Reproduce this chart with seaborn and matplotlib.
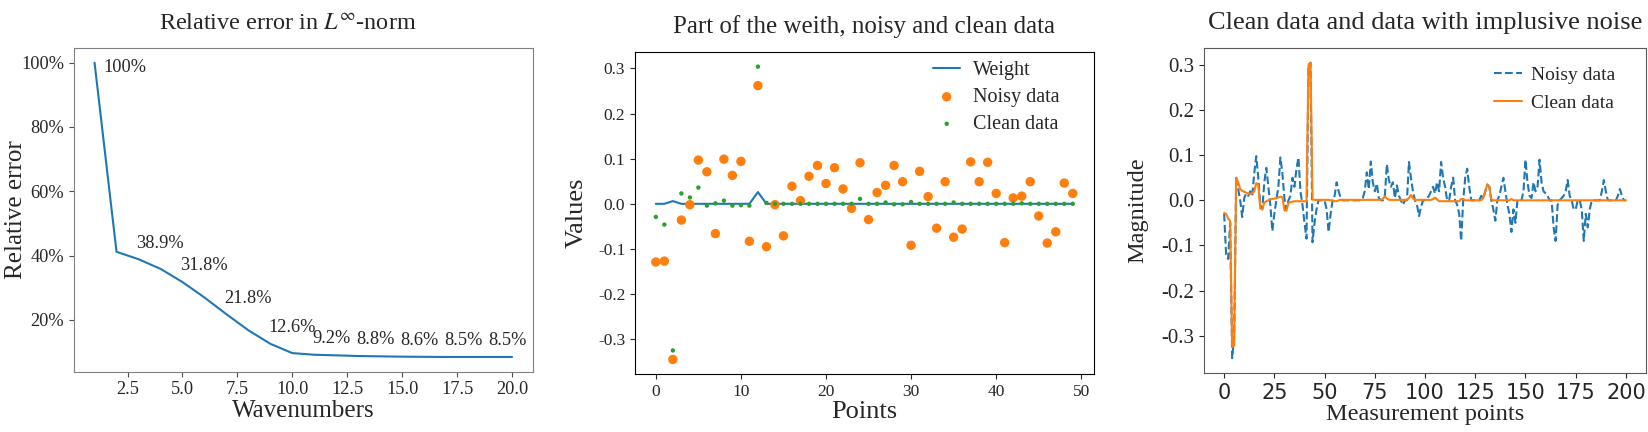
import numpy as np
import pandas as pd
import matplotlib
matplotlib.use("Agg")
import matplotlib.pyplot as plt
from matplotlib.ticker import PercentFormatter, MultipleLocator
import seaborn as sns

# ---------------- data ----------------
# Panel 1: relative error vs wavenumbers
wavenumbers = list(range(1, 21))
rel_error = [100.0, 41.2, 38.9, 35.9, 31.8, 27.0, 21.8, 16.8, 12.6, 9.7,
             9.2, 9.0, 8.8, 8.7, 8.6, 8.55, 8.5, 8.5, 8.5, 8.5]
label_wavenumbers = [1, 3, 5, 7, 9, 11, 13, 15, 17, 19]
label_texts = ["100%", "38.9%", "31.8%", "21.8%", "12.6%", "9.2%", "8.8%",
               "8.6%", "8.5%", "8.5%"]

# Panel 2: weight, noisy and clean data (first 50 points)
points = list(range(50))
weight = [0, 0, 0.006, 0, 0, 0, 0, 0, 0, 0,
          0, 0, 0.026, 0, 0, 0, 0, 0, 0, 0,
          0, 0, 0, 0, 0, 0, 0, 0, 0, 0,
          0, 0, 0, 0, 0, 0, 0, 0, 0, 0,
          0, 0, 0, 0, 0, 0, 0, 0, 0, 0]
noisy_part = [-0.129, -0.127, -0.345, -0.036, -0.002, 0.097, 0.071, -0.066, 0.099, 0.063,
              0.094, -0.083, 0.262, -0.095, -0.002, -0.071, 0.039, 0.007, 0.061, 0.085,
              0.045, 0.080, 0.033, -0.010, 0.091, -0.035, 0.025, 0.041, 0.085, 0.049,
              -0.092, 0.072, 0.016, -0.054, 0.049, -0.074, -0.056, 0.093, 0.049, 0.092,
              0.023, -0.086, 0.013, 0.017, 0.049, -0.027, -0.087, -0.062, 0.046, 0.023]
clean_part = [-0.029, -0.046, -0.325, 0.023, 0.014, 0.036, -0.004, 0.001, 0.007, -0.004,
              -0.003, -0.004, 0.304, 0.002, 0.000, 0.000, 0.000, 0.000, 0.000, 0.000,
              0.000, 0.000, 0.000, 0.000, 0.011, 0.000, 0.000, 0.003, -0.001, -0.001,
              0.004, 0.000, 0.000, 0.000, 0.000, 0.003, 0.000, 0.000, 0.000, 0.000,
              0.000, 0.000, 0.000, 0.001, 0.000, 0.000, 0.000, 0.000, 0.000, 0.000]

# Panel 3: full measurement data (201 points)
measurement_points = list(range(201))
noisy_full = [
    -0.030, -0.120, -0.130, -0.050, -0.350, -0.300, 0.050, 0.025, 0.000, -0.037,
    0.005, 0.015, 0.010, 0.020, 0.010, 0.060, 0.098, 0.050, -0.010, -0.020,
    0.040, 0.072, 0.030, -0.010, -0.068, -0.030, 0.000, 0.030, 0.095, 0.060,
    0.005, -0.020, 0.000, 0.010, 0.050, 0.030, 0.070, 0.095, 0.020, -0.010,
    -0.050, -0.085, 0.300, 0.305, -0.093, -0.050, -0.020, 0.000, 0.000, 0.000,
    0.000, -0.020, -0.070, -0.030, 0.000, 0.010, 0.040, 0.020, 0.005, 0.000,
    0.000, 0.000, 0.000, 0.000, 0.000, 0.000, 0.000, 0.000, 0.000, 0.005,
    0.020, 0.062, 0.025, 0.086, 0.040, 0.020, 0.037, 0.005, 0.000, 0.000,
    0.010, 0.080, 0.045, 0.030, 0.040, 0.005, 0.033, 0.010, 0.000, -0.010,
    0.000, 0.000, 0.085, 0.050, 0.020, 0.000, -0.010, -0.035, -0.015, 0.000,
    0.000, 0.005, 0.010, 0.020, 0.030, 0.015, 0.040, 0.020, 0.085, 0.050,
    0.030, 0.000, 0.000, 0.030, 0.050, 0.000, -0.010, -0.030, -0.090, 0.000,
    0.050, 0.070, 0.030, 0.000, 0.000, 0.000, 0.000, 0.000, 0.010, 0.005,
    0.020, 0.035, 0.030, 0.000, -0.020, -0.045, 0.000, 0.010, 0.030, 0.050,
    0.020, -0.010, -0.030, -0.070, -0.020, -0.050, 0.000, 0.000, 0.000, 0.020,
    0.090, 0.040, 0.010, 0.005, 0.040, 0.020, 0.030, 0.090, 0.040, 0.020,
    0.015, 0.010, 0.000, 0.000, -0.060, -0.090, -0.010, 0.000, 0.005, 0.010,
    0.020, 0.045, 0.010, 0.000, -0.020, -0.020, 0.000, 0.000, -0.020, -0.090,
    -0.030, -0.060, -0.020, 0.000, 0.000, 0.000, 0.000, 0.000, 0.020, 0.045,
    0.020, 0.000, 0.000, 0.000, 0.000, 0.000, 0.010, 0.025, 0.010, 0.000,
    0.000]
clean_full = [
    -0.028, -0.030, -0.040, -0.046, -0.325, -0.322, 0.050, 0.040, 0.025, 0.021,
    0.019, 0.017, 0.015, 0.014, 0.016, 0.020, 0.038, 0.035, -0.018, -0.020,
    -0.005, -0.002, 0.000, 0.002, 0.003, 0.004, 0.005, 0.006, 0.008, 0.007,
    -0.022, -0.023, -0.006, -0.004, -0.003, -0.002, -0.002, -0.002, -0.002, -0.002,
    -0.002, -0.002, 0.300, 0.305, 0.002, 0.001, 0.001, 0.001, 0.001, 0.001,
    0.001, 0.001, 0.001, 0.000, 0.000, -0.002, -0.002, 0.000, 0.001, 0.001,
    0.001, 0.001, 0.001, 0.001, 0.001, 0.001, 0.001, 0.001, 0.001, 0.001,
    0.001, 0.001, 0.001, 0.001, 0.001, 0.001, 0.001, 0.001, 0.001, 0.003,
    0.009, 0.004, 0.001, 0.001, 0.001, 0.001, 0.001, 0.001, 0.001, 0.001,
    0.001, 0.001, 0.005, 0.012, 0.004, 0.001, 0.001, 0.001, 0.001, 0.001,
    0.001, 0.001, 0.001, 0.001, 0.003, 0.006, 0.002, -0.002, -0.002, -0.002,
    -0.002, -0.002, -0.002, -0.002, -0.002, -0.002, -0.002, -0.002, 0.003, 0.003,
    0.000, 0.000, 0.000, 0.000, 0.000, 0.000, 0.000, 0.000, 0.000, 0.005,
    0.020, 0.035, 0.030, 0.002, 0.000, 0.000, 0.000, 0.000, 0.000, 0.000,
    0.000, 0.000, 0.000, 0.003, 0.000, 0.000, 0.000, 0.000, 0.000, 0.000,
    0.000, 0.000, 0.000, 0.000, 0.000, 0.000, 0.000, 0.000, 0.000, 0.000,
    0.000, 0.000, 0.000, 0.000, 0.000, 0.000, 0.000, 0.000, 0.000, 0.000,
    0.000, 0.000, 0.000, 0.000, 0.000, 0.000, 0.000, 0.000, 0.000, 0.000,
    0.000, 0.000, 0.000, 0.000, 0.000, 0.000, 0.000, 0.000, 0.000, 0.000,
    0.000, 0.000, 0.000, 0.000, 0.000, 0.000, 0.000, 0.000, 0.000, 0.000,
    0.000]

# ---------------- style ----------------
sns.set_style("ticks")
plt.rcParams["font.family"] = ["Liberation Serif", "DejaVu Sans"]
plt.rcParams["mathtext.fontset"] = "stix"
plt.rcParams["axes.unicode_minus"] = False

C0, C1, C2 = "#1f77b4", "#ff7f0e", "#2ca02c"

fig = plt.figure(figsize=(16.48, 4.32), dpi=100)
ax1 = fig.add_axes([0.0447, 0.1396, 0.3234 - 0.0447, 0.889 - 0.1396])
ax2 = fig.add_axes([0.3853, 0.134, 0.6636 - 0.3853, 0.8796 - 0.134])
ax3 = fig.add_axes([0.7306, 0.1366, 0.9988 - 0.7306, 0.889 - 0.1366])

# ---------------- panel 1 ----------------
df1 = pd.DataFrame({"Wavenumbers": wavenumbers, "err": rel_error})
sns.lineplot(data=df1, x="Wavenumbers", y="err", ax=ax1, color=C0, lw=1.5)
ax1.yaxis.set_major_formatter(PercentFormatter(xmax=100, decimals=0))
ax1.set_yticks([20, 40, 60, 80, 100])
ax1.xaxis.set_major_locator(MultipleLocator(2.5))
ax1.set_xlabel("Wavenumbers", fontsize=18, va="center")
ax1.xaxis.set_label_coords(0.5, -0.121)
ax1.set_ylabel("Relative error", fontsize=18)
ax1.yaxis.set_label_coords(-0.102, 0.5)
ax1.set_title(r"Relative error in $L^{\infty}$-norm", fontsize=17.4, pad=0,
              x=0.465, y=1.054)
err_lookup = dict(zip(wavenumbers, rel_error))
for i, (w, t) in enumerate(zip(label_wavenumbers, label_texts)):
    v = err_lookup[w]
    if i == 0:
        ax1.text(w + 0.42, v - 1.4, t, fontsize=13.2, ha="left", va="center")
    else:
        ax1.text(w - 0.1, v + 5.0, t, fontsize=13.2, ha="left", va="center")
for s in ax1.spines.values():
    s.set_color("0.5")
ax1.tick_params(labelsize=13.2, color="0.3")

# ---------------- panel 2 ----------------
sns.lineplot(x=points, y=weight, ax=ax2, color=C0, lw=1.5, label="Weight")
sns.scatterplot(x=points, y=noisy_part, ax=ax2, color=C1, s=46, edgecolor="none",
                label="Noisy data", zorder=3)
sns.scatterplot(x=points, y=clean_part, ax=ax2, color=C2, s=10, edgecolor="none",
                label="Clean data", zorder=4)
ax2.set_xlabel("Points", fontsize=19, va="center")
ax2.xaxis.set_label_coords(0.5, -0.1176)
ax2.set_ylabel("Values", fontsize=19)
ax2.yaxis.set_label_coords(-0.1036, 0.5)
ax2.set_title("Part of the weith, noisy and clean data", fontsize=18, pad=0, y=1.0596)
ax2.set_yticks([-0.3, -0.2, -0.1, 0.0, 0.1, 0.2, 0.3])
ax2.set_yticklabels(["-0.3", "-0.2", "-0.1", "0.0", "0.1", "0.2", "0.3"])
ax2.tick_params(labelsize=12.5)
for s in ax2.spines.values():
    s.set_color("black")
ax2.legend(loc="upper right", bbox_to_anchor=(0.944, 0.997), borderaxespad=0,
           frameon=False, fontsize=14.5, handlelength=1.35, handletextpad=0.65,
           labelspacing=0.39)

# ---------------- panel 3 ----------------
sns.lineplot(x=measurement_points, y=noisy_full, ax=ax3, color=C0, lw=1.5,
             linestyle="--", label="Noisy data")
sns.lineplot(x=measurement_points, y=clean_full, ax=ax3, color=C1, lw=1.5,
             label="Clean data")
ax3.set_xlabel("Measurement points", fontsize=17.5, va="center")
ax3.xaxis.set_label_coords(0.5, -0.129)
ax3.set_ylabel("Magnitude", fontsize=17.5)
ax3.yaxis.set_label_coords(-0.127, 0.5)
ax3.set_title("Clean data and data with implusive noise", fontsize=19, pad=0, y=1.057)
ax3.xaxis.set_major_locator(MultipleLocator(25))
ax3.set_yticks([-0.3, -0.2, -0.1, 0.0, 0.1, 0.2, 0.3])
ax3.set_yticklabels(["-0.3", "-0.2", "-0.1", "0.0", "0.1", "0.2", "0.3"])
ax3.tick_params(axis="y", labelsize=15)
ax3.tick_params(axis="x", labelsize=15)
for lbl in ax3.get_xticklabels():
    lbl.set_fontfamily("DejaVu Sans")
for s in ax3.spines.values():
    s.set_color("0.35")
ax3.legend(loc="upper right", bbox_to_anchor=(0.9475, 0.968), borderaxespad=0,
           frameon=False, fontsize=14, handlelength=1.44, handletextpad=0.46,
           labelspacing=0.56)

fig.savefig("out.png", dpi=100)
